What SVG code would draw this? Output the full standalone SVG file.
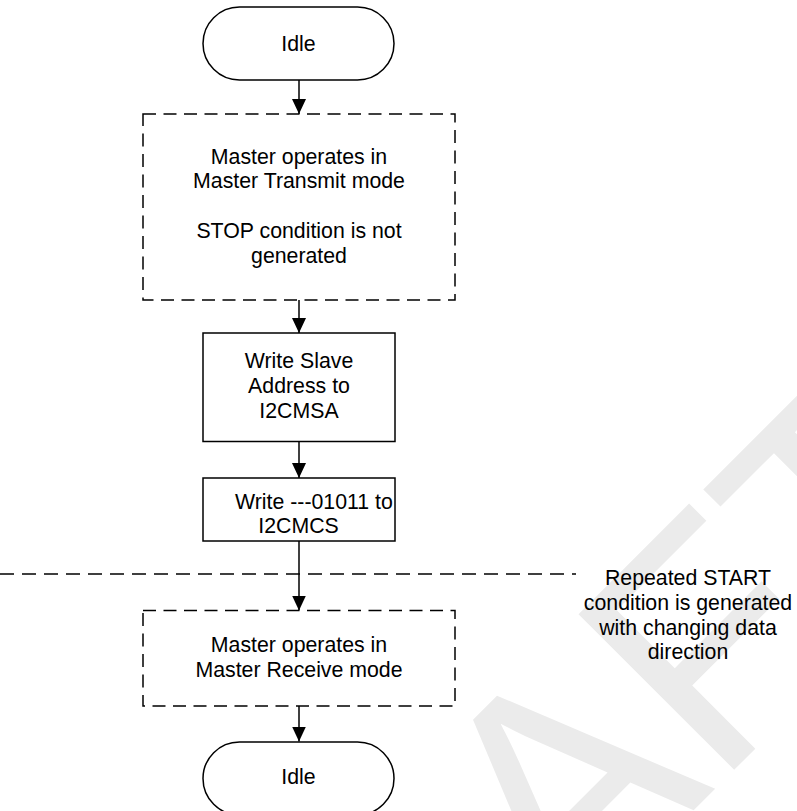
<svg xmlns="http://www.w3.org/2000/svg" width="797" height="811" viewBox="0 0 797 811">
<style>
.t{font-family:"Liberation Sans",Arial,sans-serif;font-size:21.3px;fill:#000;text-anchor:middle}
.s{fill:#fff;stroke:#000;stroke-width:1.5}
.d{fill:#fff;stroke:#000;stroke-width:1.5;stroke-dasharray:13 7.5}
.c{stroke:#000;stroke-width:1.5;fill:none}
.wm{font-family:"Liberation Sans",Arial,sans-serif;font-size:320px;fill:#ebebeb}
</style>
<defs>
<marker id="ah" markerUnits="userSpaceOnUse" markerWidth="15" markerHeight="14" viewBox="0 0 15 14" refX="15" refY="7" orient="auto">
<path d="M0,0 L15,7 L0,14 z" fill="#000"/>
</marker>
</defs>
<rect width="797" height="811" fill="#fff"/>
<g id="watermark">
<text class="wm" transform="translate(237.9,1266.1) rotate(-45)">DRAFT</text>
</g>
<g id="connectors">
<line class="c" x1="299" y1="80" x2="299" y2="114" marker-end="url(#ah)"/>
<line class="c" x1="299" y1="300" x2="299" y2="333" marker-end="url(#ah)"/>
<line class="c" x1="299" y1="441.5" x2="299" y2="478" marker-end="url(#ah)"/>
<line class="c" x1="299" y1="541" x2="299" y2="610.5" marker-end="url(#ah)"/>
<line class="c" x1="299" y1="706" x2="299" y2="741.5" marker-end="url(#ah)"/>
</g>
<g id="boundary">
<line x1="0" y1="574" x2="576" y2="574" stroke="#000" stroke-width="1.5" stroke-dasharray="14 8"/>
<text class="t" x="688" y="585">Repeated START</text>
<text class="t" x="688" y="609.5">condition is generated</text>
<text class="t" x="688" y="634.5">with changing data</text>
<text class="t" x="688" y="659">direction</text>
</g>
<g id="idle-top">
<rect class="s" x="203" y="7" width="191" height="73" rx="36.5"/>
<text class="t" x="298.5" y="51">Idle</text>
</g>
<g id="master-transmit">
<rect class="d" x="143" y="114" width="312" height="186"/>
<text class="t" x="299" y="163.5">Master operates in</text>
<text class="t" x="299" y="187.5">Master Transmit mode</text>
<text class="t" x="299" y="238">STOP condition is not</text>
<text class="t" x="299" y="262.5">generated</text>
</g>
<g id="write-slave">
<rect class="s" x="203" y="333" width="192" height="108.5"/>
<text class="t" x="299" y="368">Write Slave</text>
<text class="t" x="299" y="392.5">Address to</text>
<text class="t" x="299" y="417.5">I2CMSA</text>
</g>
<g id="write-mcs">
<rect class="s" x="203" y="478" width="192" height="63"/>
<text class="t" x="235" y="508.5" style="text-anchor:start">Write ---01011 to</text>
<text class="t" x="298.5" y="533">I2CMCS</text>
</g>
<g id="master-receive">
<rect class="d" x="143" y="610.5" width="312" height="95.5"/>
<text class="t" x="299" y="651.5">Master operates in</text>
<text class="t" x="299" y="676.5">Master Receive mode</text>
</g>
<g id="idle-bottom">
<rect class="s" x="203" y="742" width="191" height="73" rx="36.5"/>
<text class="t" x="298.5" y="784">Idle</text>
</g>
</svg>
